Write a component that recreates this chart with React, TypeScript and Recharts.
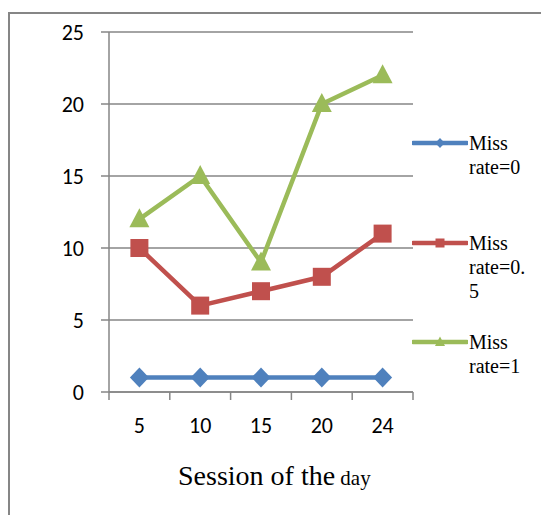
import React from 'react';
import { LineChart, Line, XAxis, YAxis, CartesianGrid, Legend } from 'recharts';

const categories = ['5', '10', '15', '20', '24'];
const missRate0 = [1, 1, 1, 1, 1];
const missRate05 = [10, 6, 7, 8, 11];
const missRate1 = [12, 15, 9, 20, 22];
const yTicks = [0, 5, 10, 15, 20, 25];
const seriesNames = { r0: 'Miss rate=0', r05: 'Miss rate=0.5', r1: 'Miss rate=1' };

const data = categories.map((c, i) => ({
  session: c,
  r0: missRate0[i],
  r05: missRate05[i],
  r1: missRate1[i],
}));

const COLORS: Record<string, string> = { r0: '#4F81BD', r05: '#C0504D', r1: '#9BBB59' };
const SHAPES: Record<string, string> = { r0: 'diamond', r05: 'square', r1: 'triangle' };
const AXIS = '#868686';
const SANS = "Carlito, Lato, 'Open Sans', sans-serif";
const SERIF = "'Liberation Serif', 'Times New Roman', serif";

function Marker({ shape, cx, cy, s, fill }: any) {
  if (cx == null || cy == null) return null;
  if (shape === 'diamond') {
    return <path d={`M${cx},${cy - s}L${cx + s * 0.95},${cy}L${cx},${cy + s}L${cx - s * 0.95},${cy}Z`} fill={fill} />;
  }
  if (shape === 'square') {
    const h = s * 0.9;
    return <rect x={cx - h} y={cy - h} width={h * 2} height={h * 2} fill={fill} />;
  }
  return <path d={`M${cx},${cy - s * 1.1}L${cx + s},${cy + s * 0.8}L${cx - s},${cy + s * 0.8}Z`} fill={fill} />;
}

const makeDot = (key: string) => (props: any) => (
  <Marker key={`${key}-${props.index}`} shape={SHAPES[key]} cx={props.cx} cy={props.cy} s={10} fill={COLORS[key]} />
);

function XTick(props: any) {
  const { x, y, payload, index, visibleTicksCount } = props;
  const half = payload && payload.offset ? payload.offset : 30.4;
  const isLast = index === (visibleTicksCount ?? categories.length) - 1;
  return (
    <g>
      <line x1={x - half} x2={x - half} y1={y} y2={y + 8} stroke={AXIS} strokeWidth={1.5} />
      {isLast && <line x1={x + half} x2={x + half} y1={y} y2={y + 8} stroke={AXIS} strokeWidth={1.5} />}
      <text x={x} y={y + 41} textAnchor="middle" fill="#000" fontFamily={SANS} fontSize={22}>
        {payload.value}
      </text>
    </g>
  );
}

function XTitle(props: any) {
  const vb = props.viewBox || { x: 109, y: 392 };
  return (
    <text x={vb.x + 69} y={vb.y + 93} fill="#000" fontFamily={SERIF}>
      <tspan fontSize={28}>Session of the</tspan>
      <tspan fontSize={21}> day</tspan>
    </text>
  );
}

function LegendContent(props: any) {
  const payload = props.payload || [];
  return (
    <div style={{ paddingTop: 131 }}>
      {payload.map((p: any) => {
        const key = p.dataKey as string;
        return (
          <div key={key} style={{ height: 99.5, display: 'flex', alignItems: 'flex-start' }}>
            <svg width={56} height={24} style={{ flex: 'none', marginRight: 1 }}>
              <line x1={1} x2={55} y1={12} y2={12} stroke={COLORS[key]} strokeWidth={4.5} strokeLinecap="round" />
              <Marker shape={SHAPES[key]} cx={28} cy={12} s={5} fill={COLORS[key]} />
            </svg>
            <div
              style={{
                width: 62,
                fontFamily: SERIF,
                fontSize: 20,
                lineHeight: '24px',
                color: '#000',
                overflowWrap: 'anywhere',
              }}
            >
              {p.value}
            </div>
          </div>
        );
      })}
    </div>
  );
}

export default function App() {
  return (
    <div style={{ position: 'absolute', left: 0, top: 0, width: 541, height: 515, overflow: 'hidden', background: '#fff' }}>
      <div
        style={{
          position: 'absolute',
          left: 8,
          top: 12,
          width: 700,
          height: 700,
          borderLeft: `2px solid ${AXIS}`,
          borderTop: `2px solid ${AXIS}`,
        }}
      />
      <div style={{ position: 'absolute', left: 0, top: 0 }}>
        <LineChart width={541} height={515} data={data} margin={{ top: 32, right: 128, bottom: 23, left: 0 }}>
          <CartesianGrid vertical={false} stroke={AXIS} strokeWidth={1.5} />
          <XAxis
            dataKey="session"
            scale="band"
            height={100}
            axisLine={{ stroke: AXIS, strokeWidth: 1.5 }}
            tickLine={false}
            tickSize={0}
            tickMargin={0}
            interval={0}
            tick={<XTick />}
            label={{ content: <XTitle /> } as any}
          />
          <YAxis
            width={109}
            domain={[0, 25]}
            ticks={yTicks}
            interval={0}
            axisLine={{ stroke: AXIS, strokeWidth: 1.5 }}
            tickLine={{ stroke: AXIS, strokeWidth: 1.5 }}
            tickSize={8}
            tickMargin={17}
            tick={{ fill: '#000', fontFamily: SANS, fontSize: 22 }}
          />
          <Legend
            layout="horizontal"
            verticalAlign="middle"
            align="center"
            content={<LegendContent />}
            wrapperStyle={{ position: 'absolute', left: 412, top: 0, width: 129, height: 515 }}
          />
          <Line
            dataKey="r0"
            name={seriesNames.r0}
            stroke={COLORS.r0}
            strokeWidth={4.5}
            strokeLinejoin="round"
            dot={makeDot('r0')}
            activeDot={false}
            isAnimationActive={false}
          />
          <Line
            dataKey="r05"
            name={seriesNames.r05}
            stroke={COLORS.r05}
            strokeWidth={4.5}
            strokeLinejoin="round"
            dot={makeDot('r05')}
            activeDot={false}
            isAnimationActive={false}
          />
          <Line
            dataKey="r1"
            name={seriesNames.r1}
            stroke={COLORS.r1}
            strokeWidth={4.5}
            strokeLinejoin="round"
            dot={makeDot('r1')}
            activeDot={false}
            isAnimationActive={false}
          />
        </LineChart>
      </div>
    </div>
  );
}
